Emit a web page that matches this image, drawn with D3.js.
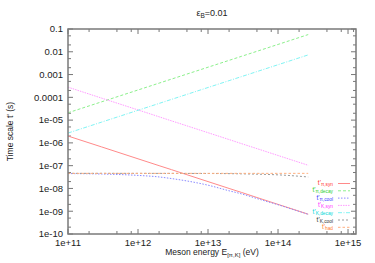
<!DOCTYPE html>
<html>
<head>
<meta charset="utf-8">
<script src="https://cdn.jsdelivr.net/npm/d3@7"></script>
<style>
  body { margin: 0; background: #fff; }
  text { font-family: "Liberation Sans", Arial, sans-serif; }
</style>
</head>
<body>
<svg id="chart" width="375" height="263"></svg>
<script>
// meson energy grid (eV) and time scales (s)
var energy    = [1e11, 3e11, 1e12, 2e12, 3e12, 5e12, 1e13, 2e13, 3e13, 5e13, 1e14, 2.7e14];
var piSyn     = [2.0e-6, 6.7e-7, 2.0e-7, 1.0e-7, 6.7e-8, 4.0e-8, 2.0e-8, 1.0e-8, 6.7e-9, 4.0e-9, 2.0e-9, 7.4e-10];
var piDecay   = [2.1e-5, 6.3e-5, 2.1e-4, 4.2e-4, 6.3e-4, 1.05e-3, 2.1e-3, 4.2e-3, 6.3e-3, 1.05e-2, 2.1e-2, 5.7e-2];
var piCool    = [4.5e-8, 4.3e-8, 3.74e-8, 3.2e-8, 2.72e-8, 2.13e-8, 1.39e-8, 7.9e-9, 5.8e-9, 3.6e-9, 1.92e-9, 7.3e-10];
var kSyn      = [2.8e-4, 9.3e-5, 2.8e-5, 1.4e-5, 9.3e-6, 5.6e-6, 2.8e-6, 1.4e-6, 9.3e-7, 5.6e-7, 2.8e-7, 1.04e-7];
var kDecay    = [2.7e-6, 8.1e-6, 2.7e-5, 5.4e-5, 8.1e-5, 1.35e-4, 2.7e-4, 5.4e-4, 8.1e-4, 1.35e-3, 2.7e-3, 7.3e-3];
var kCool     = [4.6e-8, 4.6e-8, 4.59e-8, 4.58e-8, 4.57e-8, 4.56e-8, 4.53e-8, 4.46e-8, 4.38e-8, 4.23e-8, 3.95e-8, 3.19e-8];
var tHad      = [4.6e-8, 4.6e-8, 4.6e-8, 4.6e-8, 4.6e-8, 4.6e-8, 4.6e-8, 4.6e-8, 4.6e-8, 4.6e-8, 4.6e-8, 4.6e-8];

var xTicks = [1e11, 1e12, 1e13, 1e14, 1e15];
var xTickLabels = ["1e+11", "1e+12", "1e+13", "1e+14", "1e+15"];
var yTicks = [1e-10, 1e-9, 1e-8, 1e-7, 1e-6, 1e-5, 1e-4, 1e-3, 1e-2, 1e-1];
var yTickLabels = ["1e-10", "1e-09", "1e-08", "1e-07", "1e-06", "1e-05", "0.0001", "0.001", "0.01", "0.1"];

var series = [
  { name: "\u03c0,syn",   values: piSyn,   line: "#ff8a8a", text: "#ff3030", dash: null },
  { name: "\u03c0,decay", values: piDecay, line: "#8cf08c", text: "#30d030", dash: "3,2" },
  { name: "\u03c0,cool",  values: piCool,  line: "#8a8aff", text: "#3838ff", dash: "1.5,1.5" },
  { name: "K,syn",        values: kSyn,    line: "#ff9cff", text: "#ff30ff", dash: "1.5,1" },
  { name: "K,decay",      values: kDecay,  line: "#80f4f4", text: "#00d8d8", dash: "4,1.5,1,1.5" },
  { name: "K,cool",       values: kCool,   line: "#9a9a9a", text: "#303030", dash: "2,2" },
  { name: "had",          values: tHad,    line: "#ffb080", text: "#ff8030", dash: "2.5,2" }
];

var svg = d3.select("#chart");
var m = { left: 68, right: 356, top: 29, bottom: 234 };

var x = d3.scaleLog().domain([1e11, 1.3e15]).range([m.left, m.right]);
var y = d3.scaleLog().domain([1e-10, 0.1]).range([m.bottom, m.top]);

// ticks (gnuplot style, inward, mirrored)
var tickCol = "#777";
var xMinor = [];
xTicks.slice(0, -1).forEach(function (d) { [2, 5, 8].forEach(function (k) { xMinor.push(d * k); }); });
xMinor.push(1e15 * 1.2);
var yMinor = [];
yTicks.slice(0, -1).forEach(function (d) { [2, 5].forEach(function (k) { yMinor.push(d * k); }); });

var g = svg.append("g");
function vt(list, len) {
  list.forEach(function (d) {
    if (x(d) > m.right) return;
    g.append("line").attr("x1", x(d)).attr("x2", x(d)).attr("y1", m.bottom).attr("y2", m.bottom - len)
      .attr("stroke", tickCol).attr("stroke-width", 1);
    g.append("line").attr("x1", x(d)).attr("x2", x(d)).attr("y1", m.top).attr("y2", m.top + len)
      .attr("stroke", tickCol).attr("stroke-width", 1);
  });
}
function ht(list, len) {
  list.forEach(function (d) {
    g.append("line").attr("y1", y(d)).attr("y2", y(d)).attr("x1", m.left).attr("x2", m.left + len)
      .attr("stroke", tickCol).attr("stroke-width", 1);
    g.append("line").attr("y1", y(d)).attr("y2", y(d)).attr("x1", m.right).attr("x2", m.right - len)
      .attr("stroke", tickCol).attr("stroke-width", 1);
  });
}
vt(xTicks, 5); vt(xMinor, 3);
ht(yTicks, 5); ht(yMinor, 3);

// tick labels
svg.append("g").selectAll("text").data(xTicks).join("text")
  .attr("x", function (d) { return x(d); })
  .attr("y", m.bottom + 12)
  .attr("text-anchor", "middle")
  .attr("font-size", 9.5)
  .attr("fill", "#222")
  .text(function (d, i) { return xTickLabels[i]; });

svg.append("g").selectAll("text").data(yTicks).join("text")
  .attr("x", m.left - 5)
  .attr("y", function (d) { return y(d) + 3.3; })
  .attr("text-anchor", "end")
  .attr("font-size", 9.5)
  .attr("fill", "#222")
  .text(function (d, i) { return yTickLabels[i]; });

// curves
var line = d3.line()
  .x(function (d) { return x(d[0]); })
  .y(function (d) { return y(d[1]); })
  .curve(d3.curveMonotoneX);

series.forEach(function (s) {
  svg.append("path")
    .datum(energy.map(function (e, i) { return [e, s.values[i]]; }))
    .attr("d", line)
    .attr("fill", "none")
    .attr("stroke", s.line)
    .attr("stroke-width", 1)
    .attr("stroke-dasharray", s.dash);
});

// frame
svg.append("rect")
  .attr("x", m.left).attr("y", m.top)
  .attr("width", m.right - m.left).attr("height", m.bottom - m.top)
  .attr("fill", "none").attr("stroke", "#7a7a7a").attr("stroke-width", 1.5);

// legend (tight rows, as in the original)
var leg = svg.append("g");
series.forEach(function (s, i) {
  var ly = 185 + i * 7.3;
  var t = leg.append("text")
    .attr("x", 333).attr("y", ly)
    .attr("text-anchor", "end")
    .attr("font-size", 6.5)
    .attr("fill", s.text);
  t.append("tspan").text("t'");
  t.append("tspan").attr("font-size", 4.8).attr("dy", 1).text(s.name);
  leg.append("line")
    .attr("x1", 338).attr("x2", 350)
    .attr("y1", ly - 1.5).attr("y2", ly - 1.5)
    .attr("stroke", s.line).attr("stroke-width", 1)
    .attr("stroke-dasharray", s.dash);
});

// title
var title = svg.append("text")
  .attr("x", (m.left + m.right) / 2).attr("y", 16)
  .attr("text-anchor", "middle").attr("font-size", 9).attr("fill", "#222");
title.append("tspan").text("\u03b5");
title.append("tspan").attr("font-size", 6.5).attr("dy", 2).text("B");
title.append("tspan").attr("dy", -2).text("=0.01");

// axis labels
var xl = svg.append("text")
  .attr("x", (m.left + m.right) / 2).attr("y", 255)
  .attr("text-anchor", "middle").attr("font-size", 8.5).attr("fill", "#222");
xl.append("tspan").text("Meson energy  E");
xl.append("tspan").attr("font-size", 6).attr("dy", 1.5).text("[\u03c0,K]");
xl.append("tspan").attr("dy", -1.5).text(" (eV)");

svg.append("text")
  .attr("transform", "translate(13," + ((m.top + m.bottom) / 2) + ") rotate(-90)")
  .attr("text-anchor", "middle").attr("font-size", 8.5).attr("fill", "#222")
  .text("Time scale t' (s)");
</script>
</body>
</html>
